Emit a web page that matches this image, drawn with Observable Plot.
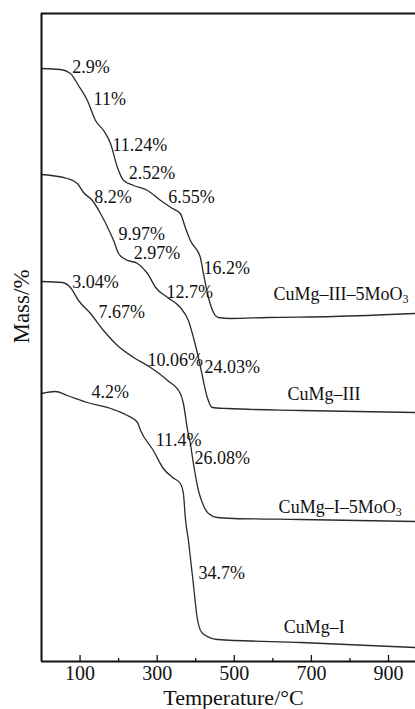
<!DOCTYPE html>
<html><head><meta charset="utf-8">
<script src="https://cdn.jsdelivr.net/npm/d3@7"></script>
<script src="https://cdn.jsdelivr.net/npm/@observablehq/plot@0.6"></script>
<style>
body{margin:0;background:#fff}
svg, svg text {font-family: "Liberation Serif", "Times New Roman", Times, serif !important;}
</style>
</head><body><div id="chart"></div>
<script>
// Series names
const seriesNames = ["CuMg–III–5MoO3", "CuMg–III", "CuMg–I–5MoO3", "CuMg–I"];

// Temperature (°C) and relative mass (arbitrary offset units) for each curve
const tempA = [0, 49, 75, 96, 119, 140, 161, 179, 197, 213, 239, 275, 309, 340, 360, 373, 386, 412, 420, 433, 446, 459, 490, 586, 757, 970];
const massA = [593, 592, 588, 576, 561, 541, 531, 518, 494, 481, 476, 471, 461, 453, 448, 434, 421, 404, 388, 364, 349, 344, 343, 344, 345, 348];

const tempB = [0, 67, 93, 109, 132, 153, 179, 187, 200, 218, 249, 275, 296, 327, 360, 381, 394, 407, 418, 430, 443, 482, 672, 970];
const massB = [487, 483, 478, 469, 461, 448, 428, 421, 408, 402, 398, 388, 374, 364, 354, 341, 324, 304, 284, 264, 254, 253, 251, 249];

const tempC = [0, 54, 75, 96, 127, 161, 197, 239, 283, 327, 360, 368, 379, 386, 394, 407, 420, 433, 456, 498, 672, 970];
const massC = [380, 379, 374, 361, 348, 331, 316, 304, 294, 281, 268, 258, 231, 218, 198, 171, 156, 148, 144, 143, 142, 140];

const tempD = [0, 36, 67, 119, 179, 223, 249, 257, 290, 316, 340, 360, 368, 373, 381, 392, 405, 418, 456, 672, 970];
const massD = [268, 270, 266, 259, 253, 246, 239, 231, 211, 193, 184, 178, 168, 144, 121, 84, 41, 28, 22, 19, 14];

// Mass-loss annotations
const noteText = ["2.9%", "11%", "11.24%", "2.52%", "6.55%", "8.2%", "9.97%", "2.97%", "16.2%", "3.04%", "12.7%", "7.67%", "10.06%", "24.03%", "4.2%", "11.4%", "26.08%", "34.7%"];
const noteTemp = [80, 135, 184, 226, 329, 137, 200, 239, 420, 80, 324, 148, 275, 423, 130, 296, 397, 407];
const noteMass = [589, 557, 511, 483, 459, 459, 422, 403, 388, 374, 364, 344, 296, 289, 264, 216, 198, 83];

// Series label positions
const nameTemp = [602, 638, 615, 628];
const nameMass = [362, 262, 149, 29];

// Axis
const xDomain = [0, 970];
const yDomain = [0, 648];
const majorTicks = [100, 300, 500, 700, 900];
const minorTicks = [200, 400, 600, 800];
const xLabel = "Temperature/°C";
const yLabel = "Mass/%";

const temps = [tempA, tempB, tempC, tempD];
const masses = [massA, massB, massC, massD];
const rows = seriesNames.flatMap((s, i) => temps[i].map((t, j) => ({series: s, t, m: masses[i][j]})));
const notes = noteText.map((text, i) => ({text, t: noteTemp[i], m: noteMass[i]}));
const names = seriesNames.map((text, i) => ({text, t: nameTemp[i], m: nameMass[i]}));

const ink = "#111";
const serif = "Liberation Serif";
const chart = Plot.plot({
  width: 415, height: 709,
  marginTop: 13, marginBottom: 48, marginLeft: 41, marginRight: 0,
  style: {fontFamily: serif, background: "#fff", color: ink},
  x: {domain: xDomain},
  y: {domain: yDomain, axis: null},
  marks: [
    Plot.line(rows, {x: "t", y: "m", z: "series", stroke: "#2b2b2b", strokeWidth: 1.3, curve: "monotone-x"}),
    Plot.text(notes, {x: "t", y: "m", text: "text", textAnchor: "start", lineAnchor: "bottom", fontSize: 18, fontFamily: serif, fill: ink}),
    Plot.text(names, {x: "t", y: "m", text: "text", textAnchor: "start", lineAnchor: "bottom", fontSize: 18, fontFamily: serif, fill: ink}),
    Plot.axisX(majorTicks, {tickSize: 0, tickPadding: 4.5, fontSize: 20, fontFamily: serif, fontVariant: "normal", label: null}),
    Plot.axisX(majorTicks, {tickSize: -6, tickFormat: () => "", label: null, strokeWidth: 1.3}),
    Plot.axisX(minorTicks, {tickSize: -3, tickFormat: () => "", label: null, strokeWidth: 1.3}),
    Plot.ruleY(yDomain, {stroke: ink, strokeWidth: 2}),
    Plot.ruleX([xDomain[0]], {stroke: ink, strokeWidth: 2}),
    Plot.text([xLabel], {frameAnchor: "bottom", dy: 43, dx: 5, textAnchor: "middle", lineAnchor: "bottom", fontSize: 22, fontFamily: serif, fill: ink}),
    Plot.text([yLabel], {frameAnchor: "left", rotate: -90, dx: -20, dy: -31, textAnchor: "middle", lineAnchor: "middle", fontSize: 23, fontFamily: serif, fill: ink})
  ]
});

// Subscript the trailing "3" of MoO3
chart.querySelectorAll("text").forEach(el => {
  const s = el.textContent;
  if (el.children.length === 0 && /MoO3$/.test(s)) {
    el.textContent = s.slice(0, -1);
    const sub = document.createElementNS("http://www.w3.org/2000/svg", "tspan");
    sub.setAttribute("dy", "0.3em");
    sub.setAttribute("font-size", "12");
    sub.textContent = "3";
    el.appendChild(sub);
  }
});

document.getElementById("chart").appendChild(chart);
</script>
</body></html>
